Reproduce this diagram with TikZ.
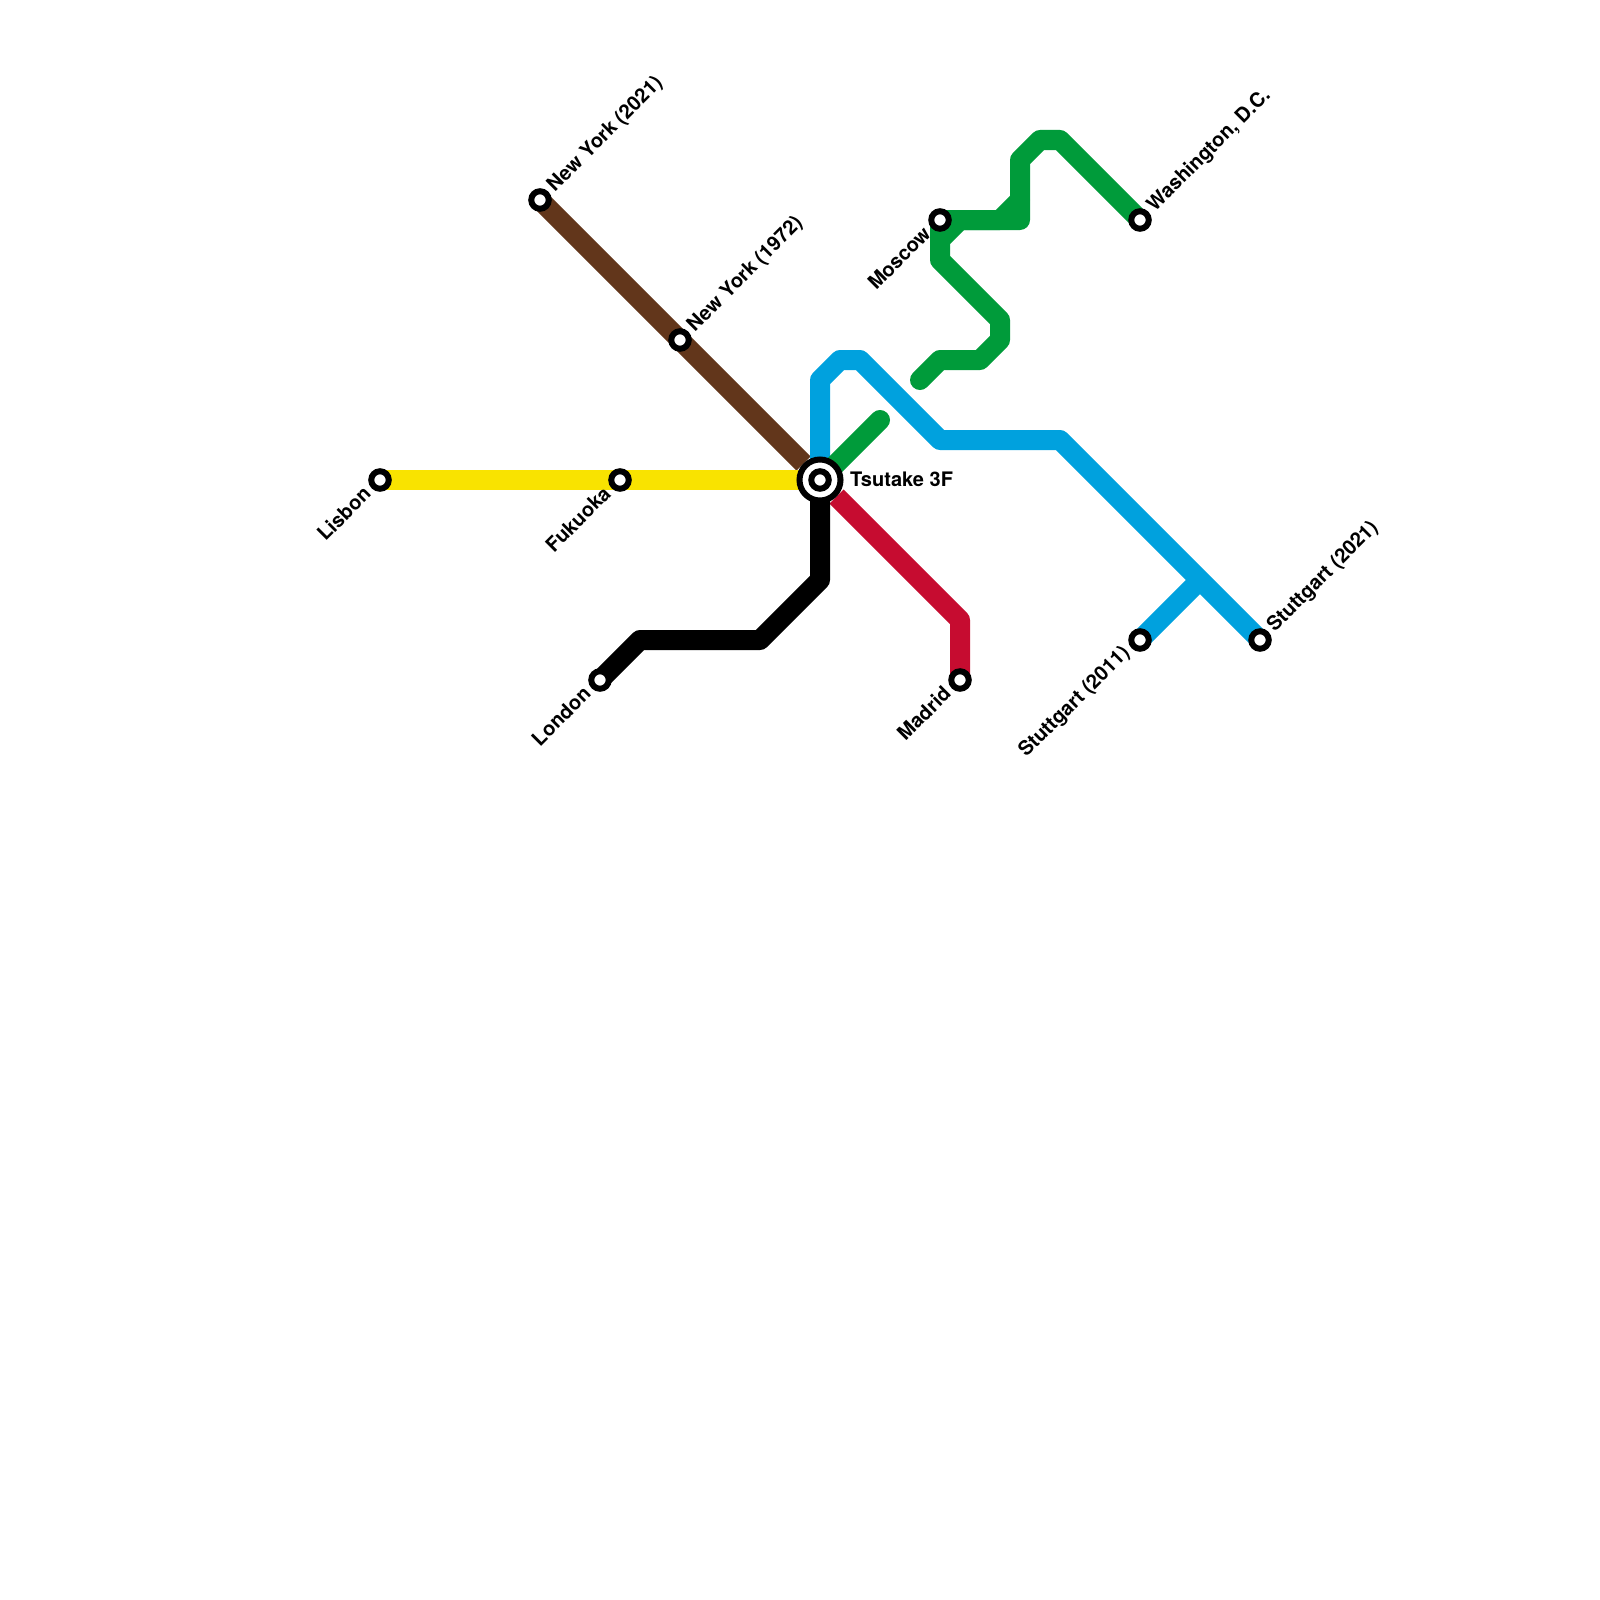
\documentclass[tikz,border=0pt]{standalone}
\usepackage{fontspec}
\setmainfont{TeX Gyre Heros}
\usetikzlibrary{backgrounds}
\definecolor{cyellow}{HTML}{F9E300}
\definecolor{cbrown}{HTML}{62361B}
\definecolor{cblue}{HTML}{00A1DE}
\definecolor{cgreen}{HTML}{009B3A}
\definecolor{cred}{HTML}{C60C30}
\tikzset{
  stn/.style={circle,draw=black,fill=white,line width=6pt,minimum size=17.5pt,inner sep=0pt,outer sep=0pt},
  hubouter/.style={circle,draw=black,fill=white,line width=6pt,minimum size=41pt,inner sep=0pt,outer sep=0pt},
  lbl/.style={font=\fontsize{20}{24}\selectfont\bfseries,text=black,inner sep=0pt,rotate=45},
  lblr/.style={lbl,anchor=west},
  lbll/.style={lbl,anchor=east},
  metro/.style={line width=20pt,line join=round,line cap=butt}
}
\begin{document}
\begin{tikzpicture}[x=1pt,y=-1pt]
\useasboundingbox (0,0) rectangle (1600,1600);
% stations
\node[stn] (lisbon) at (380,480) {};
\node[stn] (fukuoka) at (620,480) {};
\node[stn] (nyb) at (540,200) {};
\node[stn] (nya) at (680,340) {};
\node[stn] (london) at (600,680) {};
\node[stn] (madrid) at (960,680) {};
\node[stn] (moscow) at (940,220) {};
\node[stn] (dc) at (1140,220) {};
\node[stn] (stb) at (1260,640) {};
\node[stn] (sta) at (1140,640) {};
\node[hubouter] (hub) at (820,480) {};
\node[stn] (hubin) at (820,480) {};
% bends
\coordinate (k1) at (820,580);
\coordinate (k2) at (760,640);
\coordinate (k3) at (640,640);
\coordinate (r0) at (836.5,496.5);
\coordinate (r1) at (960,620);
\coordinate (br0) at (803.5,463.5);
\coordinate (b1) at (820,380);
\coordinate (b2) at (840,360);
\coordinate (b3) at (860,360);
\coordinate (b4) at (940,440);
\coordinate (b5) at (1060,440);
\coordinate (bj) at (1200,580);
\coordinate (ga) at (880,420);
\coordinate (g1) at (920,380);
\coordinate (g2) at (940,360);
\coordinate (g3) at (980,360);
\coordinate (g4) at (1000,340);
\coordinate (g5) at (1000,320);
\coordinate (g6) at (940,260);
\coordinate (g7) at (940,240);
\coordinate (g8) at (960,220);
\coordinate (g9) at (1020,220);
\coordinate (g10) at (1000,220);
\coordinate (g11) at (1020,200);
\coordinate (g12) at (1020,160);
\coordinate (g13) at (1040,140);
\coordinate (g14) at (1060,140);
% labels
\node[lblr] at ([shift={(11,-11)}]nyb.center) {New York (2021)};
\node[lblr] at ([shift={(11,-11)}]nya.center) {New York (1972)};
\node[lblr] at ([shift={(11,-11)}]dc.center) {Washington, D.C.};
\node[lblr] at ([shift={(11,-11)}]stb.center) {Stuttgart (2021)};
\node[lbll] at ([shift={(-13,10)}]lisbon.center) {Lisbon};
\node[lbll] at ([shift={(-13,10)}]fukuoka.center) {Fukuoka};
\node[lbll] at ([shift={(-13,10)}]london.center) {London};
\node[lbll] at ([shift={(-13,10)}]madrid.center) {Madrid};
\node[lbll] at ([shift={(-13,10)}]moscow.center) {Moscow};
\node[lbll] at ([shift={(-13,10)}]sta.center) {Stuttgart (2011)};
\node[font=\fontsize{20}{24}\selectfont\bfseries,anchor=west,inner sep=0pt] (hublabel) at (850,479) {Tsutake 3F};
\begin{scope}[on background layer]
\draw[metro,cbrown] (nyb.center) -- (br0);
\draw[metro,cyellow] (lisbon.center) -- (hub.center);
\draw[metro,cblue] (hub.center) -- (b1) -- (b2) -- (b3) -- (b4) -- (b5) -- (stb.center);
\draw[metro,cblue] (bj) -- (sta.center);
\draw[metro,cgreen,line cap=round] (hub.center) -- (ga);
\draw[metro,cred] (r0) -- (r1) -- (madrid.center);
\draw[metro,black] (hub.center) -- (k1) -- (k2) -- (k3) -- (london.center);
\draw[metro,cgreen,line cap=round] (g1) -- (g2) -- (g3) -- (g4) -- (g5) -- (g6) -- (g7) -- (g8) -- (g9) -- (g11);
\draw[metro,cgreen] (moscow.center) -- (g7);
\draw[metro,cgreen] (moscow.center) -- (g10) -- (g11) -- (g12) -- (g13) -- (g14) -- (dc.center);
\end{scope}
\end{tikzpicture}
\end{document}
